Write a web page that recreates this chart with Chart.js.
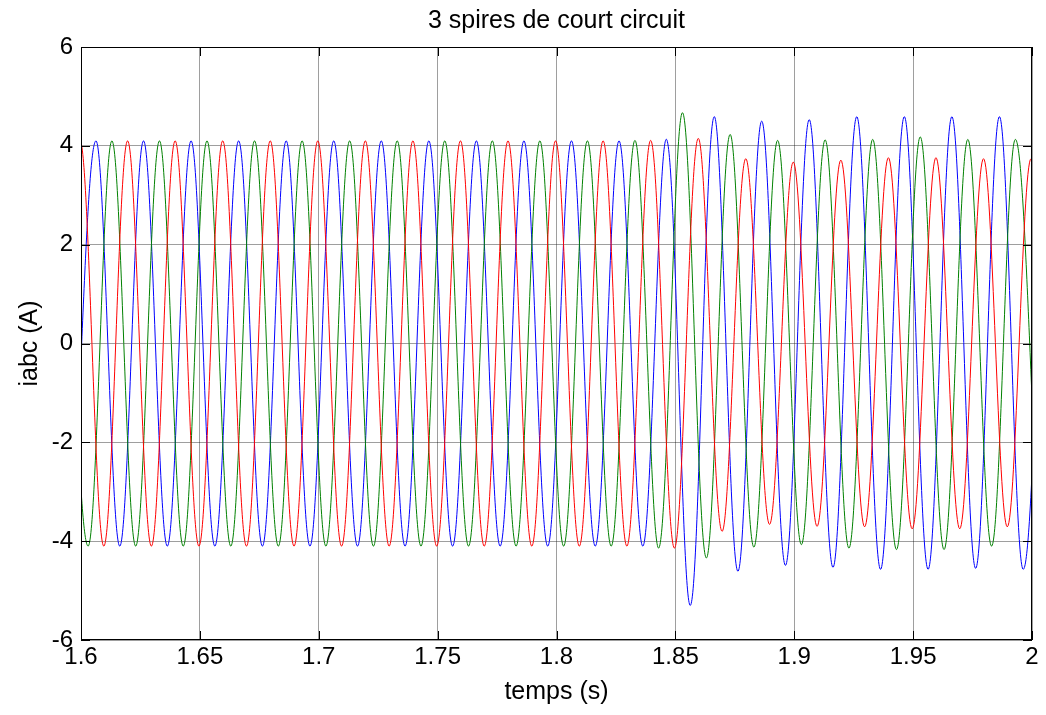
<!DOCTYPE html>
<html>
<head>
<meta charset="utf-8">
<title>3 spires de court circuit</title>
<script src="https://cdn.jsdelivr.net/npm/chart.js@4.4.1/dist/chart.umd.min.js"></script>
<style>
    html, body { margin: 0; padding: 0; background: #fff; }
    canvas { display: block; }
</style>
</head>
<body>
<canvas id="courants" width="1046" height="715"></canvas>
<script>
// successive peaks / troughs of each phase current, one every half period (10 ms)
const halfPeriod = 0.01;

const tStartBlue = 1.5963;   // first value is a trough
const blueExtremes = [
    -4.1, 4.1, -4.1, 4.1, -4.1, 4.1, -4.1, 4.1, -4.1, 4.1,
    -4.1, 4.1, -4.1, 4.1, -4.1, 4.1, -4.1, 4.1, -4.1, 4.1,
    -4.1, 4.1, -4.1, 4.1, -4.1, 4.13, -5.30, 4.59, -4.61, 4.50,
    -4.49, 4.53, -4.53, 4.59, -4.57, 4.59, -4.57, 4.59, -4.55, 4.59,
    -4.57, 4.59
];

const tStartGreen = 1.5930;  // first value is a peak
const greenExtremes = [
    4.1, -4.1, 4.1, -4.1, 4.1, -4.1, 4.1, -4.1, 4.1, -4.1,
    4.1, -4.1, 4.1, -4.1, 4.1, -4.1, 4.1, -4.1, 4.1, -4.1,
    4.1, -4.1, 4.1, -4.1, 4.11, -4.14, 4.67, -4.34, 4.23, -4.12,
    4.11, -4.07, 4.12, -4.14, 4.13, -4.17, 4.18, -4.17, 4.13, -4.10,
    4.13, -4.10
];

const tStartRed = 1.5896;    // first value is a trough
const redExtremes = [
    -4.1, 4.1, -4.1, 4.1, -4.1, 4.1, -4.1, 4.1, -4.1, 4.1,
    -4.1, 4.1, -4.1, 4.1, -4.1, 4.1, -4.1, 4.1, -4.1, 4.1,
    -4.1, 4.1, -4.1, 4.1, -4.1, 4.11, -4.14, 4.15, -3.80, 3.74,
    -3.66, 3.67, -3.70, 3.71, -3.71, 3.76, -3.75, 3.76, -3.75, 3.74,
    -3.71, 3.74, -3.70
];

const xTicks = [1.6, 1.65, 1.7, 1.75, 1.8, 1.85, 1.9, 1.95, 2];
const yTicks = [-6, -4, -2, 0, 2, 4, 6];
const chartTitle = '3 spires de court circuit';

function toPoints(t0, extremes) {
    return extremes.map((v, i) => ({x: t0 + i * halfPeriod, y: v}));
}

const fontFamily = "'Liberation Sans', Arial, Helvetica, sans-serif";

// matlab style box: black frame + ticks pointing inside, title centred over the axes
const matlabBox = {
    id: 'matlabBox',
    afterDraw(chart) {
        const ctx = chart.ctx;
        const a = chart.chartArea;
        const xs = chart.scales.x;
        const ys = chart.scales.y;
        const len = 9;
        ctx.save();
        ctx.strokeStyle = '#000';
        ctx.lineWidth = 1;
        ctx.beginPath();
        xTicks.forEach(v => {
            const px = Math.round(xs.getPixelForValue(v)) + 0.5;
            ctx.moveTo(px, a.bottom);
            ctx.lineTo(px, a.bottom - len);
            ctx.moveTo(px, a.top);
            ctx.lineTo(px, a.top + len);
        });
        yTicks.forEach(v => {
            const py = Math.round(ys.getPixelForValue(v)) + 0.5;
            ctx.moveTo(a.left, py);
            ctx.lineTo(a.left + len, py);
            ctx.moveTo(a.right, py);
            ctx.lineTo(a.right - len, py);
        });
        ctx.stroke();
        ctx.strokeRect(Math.round(a.left) + 0.5, Math.round(a.top) + 0.5,
            Math.round(a.right - a.left) - 1, Math.round(a.bottom - a.top) - 1);

        ctx.fillStyle = '#000';
        ctx.font = '25px ' + fontFamily;
        ctx.textAlign = 'center';
        ctx.textBaseline = 'middle';
        ctx.fillText(chartTitle, (a.left + a.right) / 2, 21);
        ctx.restore();
    }
};

const ctx = document.getElementById('courants').getContext('2d');

new Chart(ctx, {
    type: 'line',
    data: {
        datasets: [{
            label: 'ic',
            data: toPoints(tStartRed, redExtremes),
            borderColor: 'rgb(255,0,0)',
            borderWidth: 1
        }, {
            label: 'ib',
            data: toPoints(tStartGreen, greenExtremes),
            borderColor: 'rgb(0,128,0)',
            borderWidth: 1
        }, {
            label: 'ia',
            data: toPoints(tStartBlue, blueExtremes),
            borderColor: 'rgb(0,0,255)',
            borderWidth: 1
        }]
    },
    options: {
        responsive: false,
        animation: false,
        events: [],
        layout: {
            padding: {left: 0, right: 14, top: 47, bottom: 0}
        },
        elements: {
            point: {radius: 0},
            line: {tension: 0.363, capBezierPoints: false, fill: false}
        },
        plugins: {
            legend: {display: false},
            tooltip: {enabled: false},
            title: {display: false}
        },
        scales: {
            x: {
                type: 'linear',
                min: 1.6,
                max: 2,
                afterFit: function (scale) { scale.height = 75; },
                afterBuildTicks: function (scale) {
                    scale.ticks = xTicks.map(v => ({value: v}));
                },
                ticks: {
                    color: '#000',
                    font: {family: fontFamily, size: 24},
                    padding: 3,
                    autoSkip: false,
                    maxRotation: 0,
                    callback: function (value) { return String(Number(value.toFixed(2))); }
                },
                grid: {color: 'rgba(0,0,0,0.38)', lineWidth: 1, drawTicks: false},
                border: {display: false},
                title: {
                    display: true,
                    text: 'temps (s)',
                    color: '#000',
                    font: {family: fontFamily, size: 25},
                    padding: {top: 0, bottom: 8}
                }
            },
            y: {
                type: 'linear',
                min: -6,
                max: 6,
                afterFit: function (scale) { scale.width = 81; },
                afterBuildTicks: function (scale) {
                    scale.ticks = yTicks.map(v => ({value: v}));
                },
                ticks: {
                    color: '#000',
                    font: {family: fontFamily, size: 24},
                    padding: 8
                },
                grid: {color: 'rgba(0,0,0,0.38)', lineWidth: 1, drawTicks: false},
                border: {display: false},
                title: {
                    display: true,
                    text: 'iabc (A)',
                    color: '#000',
                    font: {family: fontFamily, size: 25},
                    padding: {top: 15, bottom: 0}
                }
            }
        }
    },
    plugins: [matlabBox]
});
</script>
</body>
</html>
